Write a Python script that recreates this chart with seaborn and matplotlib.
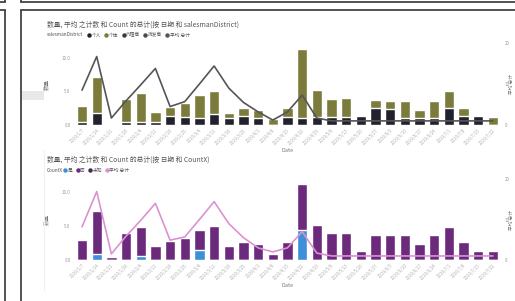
import numpy as np
import matplotlib
matplotlib.use("Agg")
import matplotlib.pyplot as plt
from matplotlib.lines import Line2D
from matplotlib.patches import Rectangle
import seaborn as sns

# weekly dates on the x axis
dates = ["2019/1/7", "2019/1/14", "2019/1/21", "2019/1/28", "2019/2/4", "2019/2/11",
         "2019/2/18", "2019/2/25", "2019/3/4", "2019/3/11", "2019/3/18", "2019/3/25",
         "2019/4/1", "2019/4/8", "2019/4/15", "2019/4/22", "2019/4/29", "2019/5/6",
         "2019/5/13", "2019/5/20", "2019/5/27", "2019/6/3", "2019/6/10", "2019/6/17",
         "2019/6/24", "2019/7/1", "2019/7/8", "2019/7/15", "2019/7/22"]

# top chart: stacked count by salesmanDistrict + average line
top_total = [2.8, 7.2, 0.25, 3.9, 4.8, 2.0, 2.7, 3.2, 4.4, 5.0, 1.8, 2.6, 2.3, 0.9, 2.6,
             11.3, 5.2, 3.8, 4.0, 1.3, 3.7, 3.6, 3.6, 2.3, 3.6, 5.0, 2.6, 1.3, 1.2]
top_dark = [0.5, 1.8, 0.15, 0.5, 0.5, 0.5, 1.3, 1.2, 1.1, 1.6, 1.0, 1.3, 1.0, 0.0, 1.2,
            1.1, 1.2, 1.2, 1.2, 1.3, 2.5, 2.4, 1.0, 1.0, 1.0, 2.5, 1.3, 1.3, 0.0]
top_avg = [8.5, 16.7, 1.7, 5.9, 9.8, 13.8, 4.5, 5.7, 10.0, 14.4, 9.0, 5.5, 3.2, 1.2, 3.2,
           7.3, 1.7, 1.0, 1.0, 1.0, 1.0, 1.0, 1.0, 1.0, 1.0, 1.0, 1.0, 1.0, 1.0]

# bottom chart: stacked count by CountX + average line
bot_total = [2.9, 7.2, 0.4, 3.9, 4.9, 2.1, 2.8, 3.2, 4.4, 5.0, 2.0, 2.7, 2.4, 0.9, 2.6,
             11.2, 5.2, 3.9, 4.0, 1.3, 3.7, 3.7, 3.7, 2.4, 3.6, 4.9, 2.6, 1.3, 1.3]
bot_blue = [0.0, 0.9, 0.0, 0.0, 0.6, 0.0, 0.0, 0.0, 1.5, 0.0, 0.0, 0.0, 0.0, 0.0, 0.0,
            4.4, 0.0, 0.0, 0.0, 0.0, 0.0, 0.0, 0.0, 0.0, 0.0, 0.0, 0.0, 0.0, 0.0]
bot_avg = [8.2, 16.9, 1.5, 5.9, 9.8, 14.0, 4.9, 5.7, 10.0, 14.4, 9.0, 5.5, 3.0, 2.0, 3.0,
           7.0, 1.7, 1.0, 1.0, 1.0, 1.0, 1.0, 1.0, 1.0, 1.0, 1.0, 1.0, 1.0, 1.0]

left_ticks = [0, 5, 10]
left_labels = ["0.0", "5.0", "10.0"]
right_ticks = [0, 10, 20]
right_labels = ["0", "10", "20"]

top_legend = ["个人", "个体", "代理商", "批发商", "平均 总计"]
bot_legend = ["是", "否", "未知", "平均 总计"]

OLIVE, DARK, GRAY = "#7b7c3b", "#22222e", "#555555"
PURPLE, BLUE, PINK = "#6b2a7c", "#3d8fd8", "#dc92d2"

sns.set_style("white")
plt.rcParams["font.family"] = ["Noto Sans CJK SC", "DejaVu Sans"]

W, H = 515, 301
fig = plt.figure(figsize=(W / 100, H / 100), dpi=100)


def fx(px):
    return px / W


def fy(py):
    return 1 - py / H


# page frame lines
for (x0, y0, x1, y1) in [(0, 1.7, 5, 1.7), (5, 0, 5, 1.7), (20.7, 1.7, W, 1.7), (20.7, 0, 20.7, 1.7),
                         (0, 10, 5, 10), (5, 10, 5, H), (20.7, 10, W, 10), (20.7, 10, 20.7, H)]:
    fig.add_artist(Line2D([fx(x0), fx(x1)], [fy(y0), fy(y1)], color="#444444", lw=1.3))
fig.add_artist(Rectangle((fx(21.5), fy(100)), fx(22), 9 / H, color="#e8e8e8", lw=0))
fig.add_artist(Line2D([fx(44), fx(44)], [fy(150), fy(290)], color="#f0f0f0", lw=0.8))


def combo(top_px, base_px, total, lower, avg, c_total, c_lower, c_line, ytop):
    ax = fig.add_axes([fx(74.7), fy(base_px), fx(500.3 - 74.7), (base_px - top_px) / H])
    sns.barplot(x=dates, y=total, color=c_total, width=0.7, saturation=1, ax=ax)
    sns.barplot(x=dates, y=lower, color=c_lower, width=0.7, saturation=1, ax=ax)
    ax2 = ax.twinx()
    sns.lineplot(x=np.arange(len(dates)), y=avg, color=c_line, lw=1.2, ax=ax2)
    ax.set_xlim(-0.5, len(dates) - 0.5)
    ax.set_ylim(0, ytop)
    ax2.set_ylim(0, 20)
    ax.set_yticks(left_ticks)
    ax.set_yticklabels(left_labels)
    ax2.set_yticks(right_ticks)
    ax2.set_yticklabels(right_labels)
    ax.set_xticks(range(len(dates)))
    ax.set_xticklabels(dates, rotation=45, ha="right", rotation_mode="anchor")
    for a in (ax, ax2):
        for s in a.spines.values():
            s.set_visible(False)
        a.tick_params(length=0, labelsize=3.2, labelcolor="#9a9a9a", pad=3)
    ax.tick_params(axis="x", pad=2, labelcolor="#b0b0b0")
    ax.set_xlabel("Date", fontsize=4, color="#777777")
    ax.xaxis.set_label_coords(0.5, -(23 / (base_px - top_px)))
    ax.set_ylabel("数量", fontsize=4, color="#777777")
    ax.yaxis.set_label_coords(-0.06, 0.5)
    ax2.set_ylabel("平均 总计", fontsize=3.4, color="#777777")
    ax2.yaxis.set_label_coords(1.021, 0.5)
    return ax


combo(43, 125, top_total, top_dark, top_avg, OLIVE, DARK, GRAY, 12.2)
combo(179, 260, bot_total, bot_blue, bot_avg, PURPLE, BLUE, PINK, 11.9)

# titles and legends
fig.text(fx(47), fy(25), "数量, 平均 之计数 和 Count 的总计(按 日期 和 salesmanDistrict)",
         fontsize=4.9, color="#555555", va="center")
fig.text(fx(47), fy(35), "salesmanDistrict", fontsize=3.4, color="#555555", va="center")
h_top = [Line2D([], [], marker="o", ls="", color=c, markersize=2.2)
         for c in [DARK, OLIVE, "#3a3a3a", "#4a4a4a", GRAY]]
fig.legend(h_top, top_legend, loc="center left", bbox_to_anchor=(fx(88), fy(35)), ncol=5,
           frameon=False, fontsize=3.4, handlelength=0.6, handletextpad=0.2,
           columnspacing=0.8, borderpad=0, borderaxespad=0, labelcolor="#555555")

fig.text(fx(47), fy(160), "数量, 平均 之计数 和 Count 的总计(按 日期 和 CountX)",
         fontsize=4.9, color="#555555", va="center")
fig.text(fx(47), fy(170), "CountX", fontsize=3.4, color="#555555", va="center")
h_bot = [Line2D([], [], marker="o", ls="", color=c, markersize=2.2)
         for c in [BLUE, PURPLE, "#4a2a55", PINK]]
fig.legend(h_bot, bot_legend, loc="center left", bbox_to_anchor=(fx(64), fy(170)), ncol=4,
           frameon=False, fontsize=3.4, handlelength=0.6, handletextpad=0.2,
           columnspacing=0.8, borderpad=0, borderaxespad=0, labelcolor="#555555")

fig.savefig("out.png", dpi=100)
